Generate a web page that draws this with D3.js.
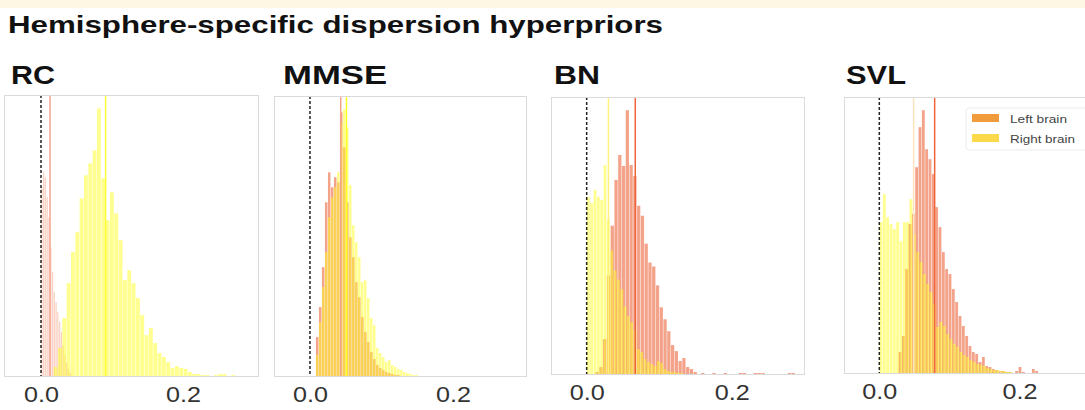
<!DOCTYPE html>
<html>
<head>
<meta charset="utf-8">
<script src="https://cdn.jsdelivr.net/npm/d3@7"></script>
<style>
  body { margin: 0; background: #fff; }
  svg { display: block; font-family: 'Liberation Sans', Arial, sans-serif; }
</style>
</head>
<body>
<svg id="chart"></svg>
<script>
// data (histogram counts per bin, arbitrary units)
const panelNames = ['RC', 'MMSE', 'BN', 'SVL'];
const seriesNames = ['Left brain', 'Right brain'];
const xTicks = [0.0, 0.2];

const leftStart = [0.0, 0.008, 0.0119, 0.0271];
const leftWidth = [0.0025, 0.0042, 0.0052, 0.00476];
const leftCounts = [
    [190, 205, 200, 180, 160, 130, 105, 85, 75, 65, 55, 45, 32, 22, 14, 8, 4, 2],
    [40, 70, 110, 175, 205, 190, 200, 195, 265, 230, 175, 140, 120, 95, 80, 60, 45, 35, 25, 18, 12, 9, 7, 5, 4, 3, 2, 2, 1, 1, 0, 1, 1],
    [3, 8, 36, 100, 150, 196, 221, 210, 266, 211, 200, 170, 160, 132, 113, 109, 90, 68, 56, 44, 30, 24, 14, 17, 8, 6, 3, 1, 2, 1, 0, 2, 0, 1, 2, 0, 0, 1, 2, 2, 1, 0, 2, 2, 2, 0, 0, 0, 0, 0, 0, 2, 2],
    [22, 38, 105, 150, 160, 207, 247, 264, 225, 215, 200, 167, 147, 122, 105, 100, 85, 72, 58, 48, 38, 28, 22, 20, 12, 17, 8, 7, 5, 4, 3, 3, 2, 2, 1, 3, 7, 2, 0, 0, 5, 3]
];

const rightStart = [0.0175, 0.008, 0.0, 0.0];
const rightWidth = [0.0061, 0.0042, 0.0046, 0.00476];
const rightCounts = [
    [10, 29, 59, 94, 125, 145, 179, 202, 214, 227, 269, 199, 157, 185, 164, 137, 97, 107, 94, 79, 62, 42, 49, 34, 24, 20, 15, 9, 11, 9, 8, 5, 3, 3, 2, 2, 1, 2, 3, 3, 1, 2, 1],
    [22, 55, 90, 125, 160, 180, 190, 205, 255, 268, 250, 192, 152, 135, 120, 95, 97, 79, 59, 52, 29, 24, 20, 15, 17, 12, 10, 8, 7, 5, 4, 3, 2, 2, 1],
    [179, 173, 186, 179, 176, 211, 156, 125, 105, 96, 86, 69, 59, 53, 45, 26, 23, 16, 13, 11, 9, 14, 12, 6, 4, 3, 3, 2, 2, 1, 1, 1],
    [152, 180, 157, 150, 145, 152, 133, 152, 152, 175, 140, 122, 112, 100, 90, 82, 70, 47, 52, 48, 40, 35, 30, 27, 22, 19, 17, 14, 12, 10, 9, 8, 6, 5, 4, 4, 3, 3, 2, 2, 1]
];

const leftMean = [0.0127, 0.043, 0.067, 0.079];
const rightMean = [0.091, 0.051, 0.030, 0.049];

// layout
const width = 1085, height = 410;
const boxes = [
    { x: 4, y: 95, w: 255, h: 282, dom: [-0.0521, 0.307] },
    { x: 274, y: 96, w: 253, h: 281, dom: [-0.0503, 0.3035] },
    { x: 551, y: 97, w: 254, h: 278, dom: [-0.0492, 0.3011] },
    { x: 844, y: 97, w: 256, h: 277, dom: [-0.0504, 0.315] }
];
const titleX = [11, 283, 554, 846];
const titleLen = [44, 104, 46, 60];

const leftColor = '#e9582a';
const rightColor = '#ffff20';
const leftOpacity = [0.27, 0.55, 0.55, 0.55];
const leftLineColor = ['#f5a390', '#f2a48a', '#f0643c', '#f0643c'];
const rightLineColor = ['#ffff3a', '#ffff20', '#fff27a', '#fde2bd'];

const svg = d3.select('#chart')
    .attr('width', width)
    .attr('height', height);

svg.append('rect')
    .attr('width', width).attr('height', height)
    .attr('fill', '#fff');

svg.append('rect')
    .attr('width', width).attr('height', 8)
    .attr('fill', '#fdf7e3');

// the picture is stretched sideways, so the texts get a fixed length
svg.append('text')
    .attr('x', 8).attr('y', 33)
    .attr('font-size', 23)
    .attr('font-weight', 'bold')
    .attr('fill', '#111')
    .attr('textLength', 655)
    .attr('lengthAdjust', 'spacingAndGlyphs')
    .text('Hemisphere-specific dispersion hyperpriors');

function binsOf(start, w, counts) {
    return counts.map((c, i) => ({ x0: start + i * w, x1: start + (i + 1) * w, c: c }));
}

panelNames.forEach((name, p) => {
    const b = boxes[p];
    const leftBins = binsOf(leftStart[p], leftWidth[p], leftCounts[p]);
    const rightBins = binsOf(rightStart[p], rightWidth[p], rightCounts[p]);
    const ymax = d3.max(leftCounts[p].concat(rightCounts[p])) * 1.05;

    const x = d3.scaleLinear().domain(b.dom).range([b.x, b.x + b.w]);
    const y = d3.scaleLinear().domain([0, ymax]).range([b.y + b.h, b.y]);

    svg.append('text')
        .attr('x', titleX[p]).attr('y', 84)
        .attr('font-size', 25)
        .attr('font-weight', 'bold')
        .attr('fill', '#111')
        .attr('textLength', titleLen[p])
        .attr('lengthAdjust', 'spacingAndGlyphs')
        .text(name);

    const g = svg.append('g').attr('class', 'panel');

    g.append('rect')
        .attr('x', b.x).attr('y', b.y)
        .attr('width', b.w).attr('height', b.h)
        .attr('fill', '#fff');

    // thin white gap between bars, like the edge lines of the original
    const gap = 0.5;

    g.selectAll('rect.left')
        .data(leftBins.filter(d => d.c > 0))
        .enter()
        .append('rect')
        .attr('class', 'left')
        .attr('x', d => x(d.x0) + gap / 2)
        .attr('y', d => y(d.c))
        .attr('width', d => Math.max(0.3, x(d.x1) - x(d.x0) - gap))
        .attr('height', d => y(0) - y(d.c))
        .attr('fill', leftColor)
        .attr('fill-opacity', leftOpacity[p]);

    g.selectAll('rect.right')
        .data(rightBins.filter(d => d.c > 0))
        .enter()
        .append('rect')
        .attr('class', 'right')
        .attr('x', d => x(d.x0) + gap / 2)
        .attr('y', d => y(d.c))
        .attr('width', d => x(d.x1) - x(d.x0) - gap)
        .attr('height', d => y(0) - y(d.c))
        .attr('fill', rightColor)
        .attr('fill-opacity', 0.5);

    // zero reference line
    g.append('line')
        .attr('x1', x(0)).attr('x2', x(0))
        .attr('y1', b.y).attr('y2', b.y + b.h)
        .attr('stroke', '#222')
        .attr('stroke-width', 1.5)
        .attr('stroke-dasharray', '3,2');

    // mean lines
    g.append('line')
        .attr('x1', x(rightMean[p])).attr('x2', x(rightMean[p]))
        .attr('y1', b.y).attr('y2', b.y + b.h)
        .attr('stroke', rightLineColor[p])
        .attr('stroke-width', 1.5);

    g.append('line')
        .attr('x1', x(leftMean[p])).attr('x2', x(leftMean[p]))
        .attr('y1', b.y).attr('y2', b.y + b.h)
        .attr('stroke', leftLineColor[p])
        .attr('stroke-width', 1.5);

    g.append('rect')
        .attr('x', b.x + 0.5).attr('y', b.y + 0.5)
        .attr('width', b.w - 1).attr('height', b.h - 1)
        .attr('fill', 'none')
        .attr('stroke', '#dadada')
        .attr('stroke-width', 1);

    const axis = d3.axisBottom(x)
        .tickValues(xTicks)
        .tickFormat(d3.format('.1f'))
        .tickSize(0)
        .tickPadding(9);

    const ax = svg.append('g')
        .attr('transform', 'translate(0,' + (b.y + b.h) + ')')
        .call(axis);
    ax.select('.domain').remove();
    ax.selectAll('text')
        .attr('font-size', 22)
        .attr('font-family', "'Liberation Sans', Arial, sans-serif")
        .attr('fill', '#333')
        .attr('textLength', 35)
        .attr('lengthAdjust', 'spacingAndGlyphs');
});

// legend in the last panel
const legendColors = ['#f09c3c', '#fbd94a'];
const legendLen = [57, 65];
const lg = svg.append('g').attr('transform', 'translate(966,108)');
lg.append('rect')
    .attr('width', 125).attr('height', 42)
    .attr('rx', 3)
    .attr('fill', '#fff')
    .attr('fill-opacity', 0.85)
    .attr('stroke', '#ececec');
seriesNames.forEach((s, i) => {
    lg.append('rect')
        .attr('x', 6).attr('y', 6 + i * 20)
        .attr('width', 27).attr('height', 8)
        .attr('fill', legendColors[i]);
    lg.append('text')
        .attr('x', 44).attr('y', 15 + i * 20)
        .attr('font-size', 11)
        .attr('fill', '#444')
        .attr('textLength', legendLen[i])
        .attr('lengthAdjust', 'spacingAndGlyphs')
        .text(s);
});
</script>
</body>
</html>
